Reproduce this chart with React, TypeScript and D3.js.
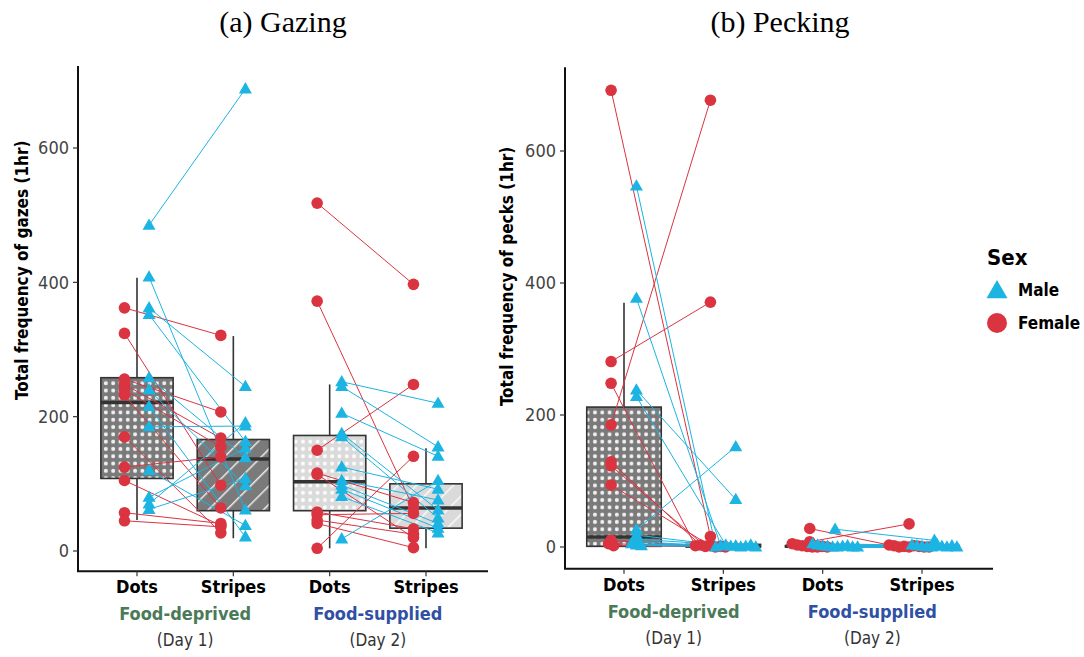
import React from 'react';
import * as d3 from 'd3';

const W = 1084, H = 657;

const GROUPS = ['d1Dots', 'd1Stripes', 'd2Dots', 'd2Stripes'];
const TICK_LABELS = ['Dots', 'Stripes', 'Dots', 'Stripes'];
const CONDITIONS = ['Food-deprived', 'Food-supplied'];
const CONDITION_COLORS = ['#4a7a58', '#2f50a3'];
const DAYS = ['(Day 1)', '(Day 2)'];
const Y_TICKS = [0, 200, 400, 600];

const MALE = '#1cb4e2';
const FEMALE = '#da3441';
const FONT = "'DejaVu Sans Condensed', 'Liberation Sans Narrow', 'DejaVu Sans', sans-serif";

// gazing: one entry per bird, dots -> stripes
const gazeD1FemaleDots = [362, 324, 256, 248, 240, 232, 170, 125, 105, 57, 45];
const gazeD1FemaleStripes = [321, 98, 207, 168, 155, 64, 27, 140, 38, 41, 36];
const gazeD1MaleDots = [485, 408, 362, 352, 258, 240, 215, 185, 120, 80, 70, 62];
const gazeD1MaleStripes = [688, 61, 245, 163, 139, 97, 21, 186, 38, 153, 191, 108];
const gazeD2FemaleDots = [518, 372, 150, 116, 114, 58, 54, 46, 41, 4];
const gazeD2FemaleStripes = [397, 64, 248, 72, 20, 33, 56, 25, 5, 141];
const gazeD2MaleDots = [252, 245, 205, 175, 170, 125, 105, 98, 92, 81, 18];
const gazeD2MaleStripes = [220, 155, 141, 61, 49, 92, 76, 41, 34, 27, 105];

// pecking
const peckD1FemaleDots = [692, 281, 248, 185, 129, 123, 94, 10, 5, 2];
const peckD1FemaleStripes = [16, 371, 2, 677, 3, 1, 2, 0, 1, 0];
const peckD1MaleDots = [547, 377, 238, 228, 26, 18, 12, 8, 5, 3, 2];
const peckD1MaleStripes = [0, 2, 72, 3, 152, 1, 2, 0, 1, 3, 0];
const peckD2FemaleDots = [28, 8, 5, 3, 2, 1, 0, 0, 1, 0];
const peckD2FemaleStripes = [3, 35, 2, 0, 1, 0, 2, 1, 0, 0];
const peckD2MaleDots = [27, 5, 3, 2, 1, 0, 0, 1, 2, 0, 0];
const peckD2MaleStripes = [10, 3, 2, 1, 0, 0, 4, 1, 0, 2, 0];

// box stats per group: [whisker low, q1, median, q3, whisker high]
const gazeBoxes = [
  [46, 108, 221, 258, 407],
  [19, 60, 137, 166, 320],
  [4, 60, 103, 172, 248],
  [4, 34, 64, 100, 153],
];
const peckBoxes = [
  [0, 1, 15, 212, 370],
  [0, 0, 2, 4, 8],
  [0, 0, 1, 2, 4],
  [0, 0, 1, 2, 4],
];

const FILLS = ['url(#dotsDark)', 'url(#stripesDark)', 'url(#dotsLight)', 'url(#stripesLight)'];

type Pair = { a: number; b: number };
function pairs(dots: number[], stripes: number[]): Pair[] {
  return dots.map((a, i) => ({ a, b: stripes[i] }));
}

function tri(cx: number, cy: number, s: number) {
  const h = s * 0.87;
  return `M${cx},${cy - h * 0.6}L${cx + s / 2},${cy + h * 0.4}L${cx - s / 2},${cy + h * 0.4}Z`;
}

// spread near-zero values sideways so the pile stays visible
function spreadOffsets(vals: number[], on: boolean) {
  const idx = vals.map((v, i) => (v <= 5 ? i : -1)).filter(i => i >= 0);
  const out = vals.map(() => 0);
  if (!on) return out;
  idx.forEach((i, k) => { out[i] = (k - (idx.length - 1) / 2) * 5; });
  return out;
}

function Panel(props: any) {
  const { title, titleX, yLabel, yLabelX, yLabelAt, xRange, yRange, yLim, axisX, boxes, female, male, spread } = props;
  const x = d3.scalePoint<string>().domain(GROUPS).range(xRange);
  const y = d3.scaleLinear().domain([0, 600]).range(yRange);
  const step = x.step();
  const bw = step * 0.75;
  const axisY = y(yLim[0]);
  const fOff = -0.13 * step, mOff = 0.125 * step;

  const seriesLines: any[] = [];
  const seriesPts: any[] = [];
  [0, 1].forEach(day => {
    const ga = GROUPS[day * 2], gb = GROUPS[day * 2 + 1];
    const sexes = [
      { data: female[day] as Pair[], off: fOff, color: FEMALE, shape: 'c' },
      { data: male[day] as Pair[], off: mOff, color: MALE, shape: 't' },
    ];
    sexes.forEach((s, si) => {
      const oa = spreadOffsets(s.data.map(d => d.a), spread);
      const ob = spreadOffsets(s.data.map(d => d.b), spread);
      s.data.forEach((d, i) => {
        const x1 = (x(ga) as number) + s.off + oa[i];
        const x2 = (x(gb) as number) + s.off + ob[i];
        seriesLines.push(
          <line key={`l${day}${si}${i}`} x1={x1} y1={y(d.a)} x2={x2} y2={y(d.b)} stroke={s.color} strokeWidth={1} />
        );
        [[x1, d.a], [x2, d.b]].forEach(([px, v], j) => {
          seriesPts.push(s.shape === 'c'
            ? <circle key={`p${day}${si}${i}${j}`} cx={px} cy={y(v)} r={5.8} fill={s.color} />
            : <path key={`p${day}${si}${i}${j}`} d={tri(px, y(v), 13)} fill={s.color} />);
        });
      });
    });
  });

  return (
    <g>
      <text x={titleX} y={32} textAnchor="middle" fontFamily="'Liberation Serif', 'Times New Roman', serif" fontSize={30}>{title}</text>
      <text transform={`translate(${yLabelX},${y(yLabelAt)}) rotate(-90)`} textAnchor="middle"
        fontFamily={FONT} fontWeight="bold" fontSize={17}>{yLabel}</text>

      {/* boxes */}
      {boxes.map((b: number[], i: number) => {
        const cx = x(GROUPS[i]) as number;
        return (
          <g key={i}>
            <line x1={cx} x2={cx} y1={y(b[0])} y2={y(b[4])} stroke="#333" strokeWidth={1.6} />
            <rect x={cx - bw / 2} y={y(b[3])} width={bw} height={Math.max(y(b[1]) - y(b[3]), 0)}
              fill={FILLS[i]} stroke="#333" strokeWidth={1.6} />
            <line x1={cx - bw / 2} x2={cx + bw / 2} y1={y(b[2])} y2={y(b[2])} stroke="#333" strokeWidth={3.5} />
          </g>
        );
      })}

      {seriesLines}
      {seriesPts}

      {/* axes */}
      <line x1={axisX[0]} x2={axisX[0]} y1={y(yLim[1])} y2={axisY} stroke="#111" strokeWidth={2} />
      <line x1={axisX[0] - 1} x2={axisX[1]} y1={axisY} y2={axisY} stroke="#111" strokeWidth={2} />
      {Y_TICKS.map(t => (
        <g key={t}>
          <line x1={axisX[0] - 5} x2={axisX[0]} y1={y(t)} y2={y(t)} stroke="#333" strokeWidth={1.2} />
          <text x={axisX[0] - 9} y={y(t)} dy="0.36em" textAnchor="end" fontFamily={FONT} fontSize={18} fill="#444">{t}</text>
        </g>
      ))}
      {GROUPS.map((g, i) => (
        <g key={g}>
          <line x1={x(g)} x2={x(g)} y1={axisY} y2={axisY + 5} stroke="#333" strokeWidth={1.2} />
          <text x={x(g)} y={axisY + 22} textAnchor="middle" fontFamily={FONT} fontWeight="bold" fontSize={18}>{TICK_LABELS[i]}</text>
        </g>
      ))}
      {CONDITIONS.map((c, i) => {
        const cx = ((x(GROUPS[i * 2]) as number) + (x(GROUPS[i * 2 + 1]) as number)) / 2;
        return (
          <g key={c}>
            <text x={cx} y={axisY + 49} textAnchor="middle" fontFamily={FONT} fontWeight="bold" fontSize={18} fill={CONDITION_COLORS[i]}>{c}</text>
            <text x={cx} y={axisY + 75} textAnchor="middle" fontFamily={FONT} fontSize={17} fill="#333">{DAYS[i]}</text>
          </g>
        );
      })}
    </g>
  );
}

export default function App() {
  return (
    <svg width={W} height={H} style={{ display: 'block', position: 'absolute', left: 0, top: 0, background: '#fff' }}>
      <defs>
        <pattern id="dotsDark" width={7.3} height={7.3} patternUnits="userSpaceOnUse">
          <rect width={7.3} height={7.3} fill="#7a7a7a" />
          <circle cx={3.65} cy={3.65} r={2} fill="#f0f0f0" />
        </pattern>
        <pattern id="dotsLight" width={7.3} height={7.3} patternUnits="userSpaceOnUse">
          <rect width={7.3} height={7.3} fill="#dadada" />
          <circle cx={3.65} cy={3.65} r={2} fill="#fcfcfc" />
        </pattern>
        <pattern id="stripesDark" width={13} height={13} patternUnits="userSpaceOnUse" patternTransform="rotate(45)">
          <rect width={13} height={13} fill="#7a7a7a" />
          <line x1={0} y1={0} x2={0} y2={13} stroke="#ececec" strokeWidth={3} />
        </pattern>
        <pattern id="stripesLight" width={13} height={13} patternUnits="userSpaceOnUse" patternTransform="rotate(45)">
          <rect width={13} height={13} fill="#dadada" />
          <line x1={0} y1={0} x2={0} y2={13} stroke="#fafafa" strokeWidth={3} />
        </pattern>
      </defs>

      <Panel title="(a) Gazing" titleX={283} yLabel="Total frequency of gazes (1hr)" yLabelX={28} yLabelAt={418}
        xRange={[137, 426]} yRange={[551, 148]} yLim={[-30, 722]} axisX={[78, 488]}
        boxes={gazeBoxes}
        female={[pairs(gazeD1FemaleDots, gazeD1FemaleStripes), pairs(gazeD2FemaleDots, gazeD2FemaleStripes)]}
        male={[pairs(gazeD1MaleDots, gazeD1MaleStripes), pairs(gazeD2MaleDots, gazeD2MaleStripes)]}
        spread={false} />

      <Panel title="(b) Pecking" titleX={780} yLabel="Total frequency of pecks (1hr)" yLabelX={513} yLabelAt={410}
        xRange={[624, 922]} yRange={[547, 151]} yLim={[-33, 727]} axisX={[565, 993]}
        boxes={peckBoxes}
        female={[pairs(peckD1FemaleDots, peckD1FemaleStripes), pairs(peckD2FemaleDots, peckD2FemaleStripes)]}
        male={[pairs(peckD1MaleDots, peckD1MaleStripes), pairs(peckD2MaleDots, peckD2MaleStripes)]}
        spread={true} />

      {/* legend */}
      <g fontFamily={FONT} fontWeight="bold">
        <text x={987} y={265} fontSize={22}>Sex</text>
        <path d={tri(997, 291, 21)} fill={MALE} />
        <text x={1018} y={290} dy="0.36em" fontSize={17}>Male</text>
        <circle cx={997} cy={323} r={10} fill={FEMALE} />
        <text x={1018} y={323} dy="0.36em" fontSize={17}>Female</text>
      </g>
    </svg>
  );
}
